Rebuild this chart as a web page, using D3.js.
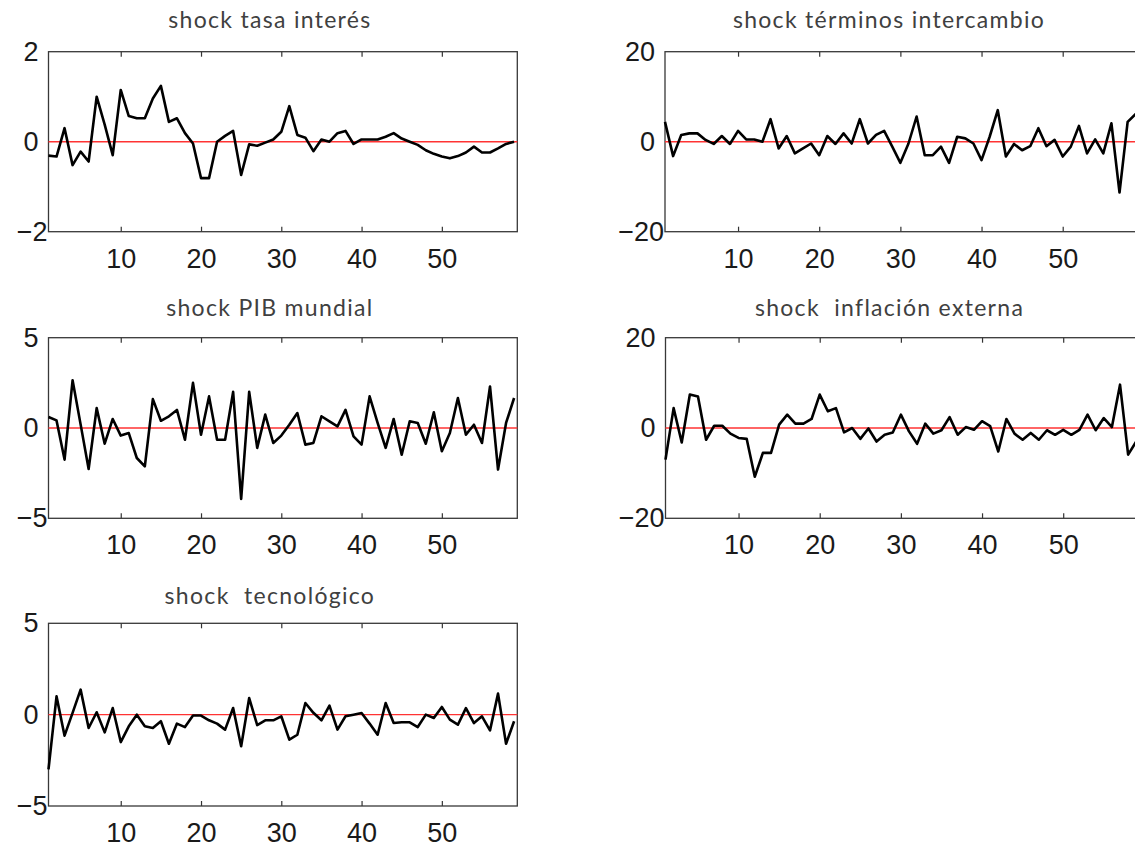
<!DOCTYPE html>
<html>
<head>
<meta charset="utf-8">
<script src="https://cdn.jsdelivr.net/npm/d3@7"></script>
<style>
	body{margin:0;background:#fff;overflow:hidden;}
	.tick text{font-family:"Liberation Sans",Arial,sans-serif;font-size:27px;fill:#1a1a1a;}
	.title{font-family:Lato,"Open Sans",sans-serif;font-size:23px;letter-spacing:1.3px;fill:#404040;white-space:pre;}
</style>
</head>
<body>
<svg width="1135" height="853"></svg>
<script>
(()=>{
	//data, t = 1..59
	let tasaInteres = [-0.31,-0.33,0.3,-0.52,-0.22,-0.44,1.0,0.38,-0.3,1.15,0.57,0.52,0.52,0.96,1.24,0.44,0.52,0.19,-0.04,-0.81,-0.81,0.0,0.13,0.24,-0.74,-0.06,-0.09,-0.02,0.05,0.22,0.79,0.15,0.09,-0.21,0.05,0.0,0.19,0.24,-0.05,0.05,0.05,0.05,0.11,0.19,0.07,0.0,-0.07,-0.19,-0.27,-0.33,-0.37,-0.32,-0.24,-0.11,-0.24,-0.24,-0.15,-0.05,0.0];
	let terminosIntercambio = [4.4,-3.2,1.5,1.85,1.85,0.4,-0.5,1.26,-0.5,2.4,0.5,0.5,0.0,5.0,-1.5,1.26,-2.6,-1.5,-0.4,-3.0,1.26,-0.5,1.85,-0.4,5.0,-0.4,1.5,2.4,-1.1,-4.7,-0.4,5.6,-3.0,-3.0,-1.1,-4.7,1.1,0.74,-0.4,-4.1,1.1,7.0,-3.3,-0.5,-1.9,-1.0,3.0,-1.0,0.4,-3.3,-1.1,3.5,-2.6,0.5,-2.6,4.1,-11.3,4.4,6.2];
	let pibMundial = [0.61,0.42,-1.75,2.64,0.2,-2.27,1.1,-0.87,0.5,-0.42,-0.28,-1.66,-2.12,1.6,0.4,0.65,1.0,-0.65,2.5,-0.37,1.75,-0.65,-0.65,2.0,-3.93,2.0,-1.1,0.74,-0.83,-0.42,0.18,0.83,-0.92,-0.83,0.65,0.37,0.09,1.0,-0.46,-0.92,1.75,0.28,-1.1,0.5,-1.48,0.37,0.28,-0.87,0.87,-1.29,-0.28,1.66,-0.37,0.18,-0.83,2.3,-2.3,0.28,1.66];
	let inflacionExterna = [-7.0,4.4,-3.2,7.4,7.0,-2.6,0.5,0.5,-1.25,-2.2,-2.4,-10.8,-5.5,-5.5,0.74,2.95,0.96,0.96,2.0,7.4,3.7,4.4,-0.96,0.0,-2.4,-0.1,-3.0,-1.5,-1.0,2.95,-0.74,-3.5,0.96,-1.25,-0.5,2.4,-1.5,0.2,-0.4,1.5,0.4,-5.2,2.0,-1.25,-2.6,-1.1,-2.6,-0.5,-1.5,-0.4,-1.5,-0.4,2.95,-0.5,2.2,0.2,9.6,-5.9,-3.0];
	let tecnologico = [-3.0,1.0,-1.15,0.1,1.37,-0.73,0.13,-0.97,0.36,-1.5,-0.64,0.0,-0.64,-0.73,-0.36,-1.59,-0.49,-0.68,-0.05,-0.05,-0.31,-0.49,-0.82,0.36,-1.73,0.91,-0.57,-0.31,-0.31,-0.09,-1.37,-1.1,0.64,0.1,-0.31,0.49,-0.82,-0.09,0.0,0.09,-0.49,-1.1,0.64,-0.46,-0.42,-0.42,-0.68,0.0,-0.18,0.42,-0.27,-0.55,0.36,-0.46,-0.09,-0.86,1.15,-1.59,-0.36];

	let titles = ["shock tasa interés","shock términos intercambio","shock PIB mundial","shock  inflación externa","shock  tecnológico"];
	let yLimits = [2,20,5,20,5];
	let xTicks = [10,20,30,40,50];

	let svg = d3.select("svg");

	//panel boxes (left col / right col, three rows)
	let panels = [
		{data:tasaInteres, left:48.5, top:51.7, w:468.8, h:180, titleY:28},
		{data:terminosIntercambio, left:665, top:51.7, w:474, h:180, titleY:28},
		{data:pibMundial, left:48.5, top:337.7, w:468.8, h:180.6, titleY:316},
		{data:inflacionExterna, left:665.5, top:337.7, w:474, h:180.6, titleY:316},
		{data:tecnologico, left:48.5, top:623.3, w:468.8, h:182.7, titleY:604}
	];

	panels.forEach((p,i)=>{
		let lim = yLimits[i];
		let x = d3.scaleLinear().domain([1,59.4]).range([p.left, p.left+p.w]);
		let y = d3.scaleLinear().domain([-lim,lim]).range([p.top+p.h, p.top]);
		let g = svg.append("g");

		//bottom axis with inward ticks
		let gb = g.append("g")
			.attr("transform","translate(0,"+(p.top+p.h)+")")
			.call(d3.axisBottom(x).tickValues(xTicks).tickSize(-5).tickPadding(17));
		gb.select(".domain").remove();
		gb.selectAll(".tick line").attr("stroke","#333").attr("stroke-width",1.2);

		//top ticks
		let gt = g.append("g")
			.attr("transform","translate(0,"+p.top+")")
			.call(d3.axisTop(x).tickValues(xTicks).tickSize(-5).tickFormat(""));
		gt.select(".domain").remove();
		gt.selectAll(".tick line").attr("stroke","#333").attr("stroke-width",1.2);

		//left axis labels
		let gl = g.append("g")
			.attr("transform","translate("+p.left+",0)")
			.call(d3.axisLeft(y).tickValues([-lim,0,lim]).tickFormat(d3.format("d")).tickSize(0).tickPadding(10));
		gl.select(".domain").remove();
		gl.selectAll(".tick text").filter(d=>d==-lim).attr("x",-1);

		//frame
		g.append("rect")
			.attr("x",p.left).attr("y",p.top)
			.attr("width",p.w).attr("height",p.h)
			.attr("fill","none").attr("stroke","#383838").attr("stroke-width",1.3);

		//zero line
		g.append("line")
			.attr("x1",p.left).attr("x2",p.left+p.w)
			.attr("y1",y(0)).attr("y2",y(0))
			.attr("stroke","#ff3333").attr("stroke-width",1.4);

		//series
		let line = d3.line().x((d,k)=>x(k+1)).y(d=>y(d));
		g.append("path")
			.datum(p.data)
			.attr("d",line)
			.attr("fill","none")
			.attr("stroke","#000")
			.attr("stroke-width",2.6)
			.attr("stroke-linejoin","round");

		//title
		g.append("text")
			.attr("class","title")
			.attr("x",p.left+p.w/2-13)
			.attr("y",p.titleY)
			.attr("text-anchor","middle")
			.text(titles[i]);
	});
})();
</script>
</body>
</html>
